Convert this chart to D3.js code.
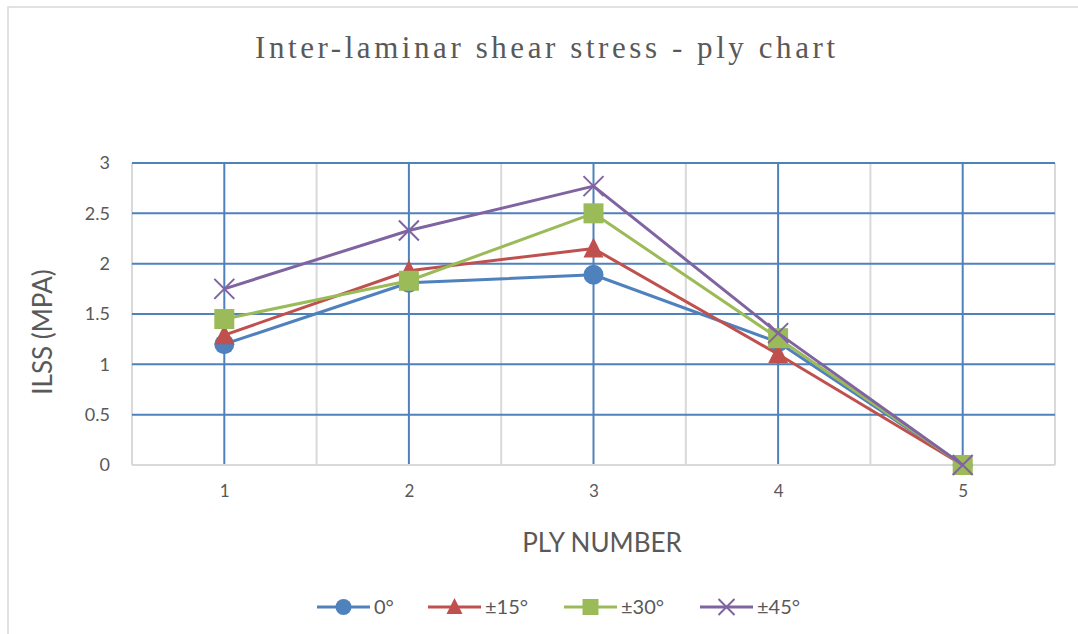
<!DOCTYPE html>
<html>
<head>
<meta charset="utf-8">
<script src="https://cdn.jsdelivr.net/npm/d3@7"></script>
<style>
  html, body { margin: 0; padding: 0; background: #ffffff; }
  svg { display: block; }
</style>
</head>
<body>
<svg id="chart" width="1078" height="634"></svg>
<script>
// Ply numbers along the x axis
const plies = [1, 2, 3, 4, 5];
// Inter-laminar shear stress (MPa) per fibre orientation
const ilss0  = [1.20, 1.81, 1.89, 1.22, 0];
const ilss15 = [1.29, 1.93, 2.15, 1.10, 0];
const ilss30 = [1.45, 1.83, 2.50, 1.26, 0];
const ilss45 = [1.75, 2.33, 2.77, 1.31, 0];
const seriesNames = ["0°", "±15°", "±30°", "±45°"];
const yTicks = [0, 0.5, 1, 1.5, 2, 2.5, 3];

const colors = ["#4F81BD", "#C0504D", "#9BBB59", "#8064A2"];
const shapes = ["circle", "triangle", "square", "cross"];
const series = [ilss0, ilss15, ilss30, ilss45].map((vals, i) => ({
  name: seriesNames[i], values: vals, color: colors[i], shape: shapes[i]
}));

const svg = d3.select("#chart");
const textColor = "#595959";
const font = "Lato, 'Open Sans', sans-serif";

// Chart frame
svg.append("rect")
  .attr("x", 8).attr("y", 7).attr("width", 1090).attr("height", 650)
  .attr("fill", "none").attr("stroke", "#d9d9d9").attr("stroke-width", 1.5);

const plot = { left: 132, right: 1055, top: 163, bottom: 465 };

const x = d3.scaleBand().domain(plies).range([plot.left, plot.right]).paddingInner(0).paddingOuter(0);
const cx = d => x(d) + x.bandwidth() / 2;
const y = d3.scaleLinear().domain([0, 3]).range([plot.bottom, plot.top]);

const grid = svg.append("g");

// Category boundaries (light grey)
const bounds = plies.map(p => x(p)).concat([plot.right]);
grid.selectAll("line.vb").data(bounds).enter().append("line")
  .attr("x1", d => d).attr("x2", d => d)
  .attr("y1", plot.top).attr("y2", plot.bottom)
  .attr("stroke", "#d9d9d9").attr("stroke-width", 2);

// Vertical lines at each ply (blue)
grid.selectAll("line.vc").data(plies).enter().append("line")
  .attr("x1", d => cx(d)).attr("x2", d => cx(d))
  .attr("y1", plot.top).attr("y2", plot.bottom)
  .attr("stroke", "#4F81BD").attr("stroke-width", 2);

// Horizontal value gridlines (blue)
grid.selectAll("line.h").data(yTicks.filter(t => t > 0)).enter().append("line")
  .attr("x1", plot.left).attr("x2", plot.right)
  .attr("y1", d => y(d)).attr("y2", d => y(d))
  .attr("stroke", "#4F81BD").attr("stroke-width", 2);

// Baseline
grid.append("line")
  .attr("x1", plot.left).attr("x2", plot.right)
  .attr("y1", y(0)).attr("y2", y(0))
  .attr("stroke", "#d9d9d9").attr("stroke-width", 2);

// Y axis labels
const yAxis = d3.axisLeft(y).tickValues(yTicks).tickSize(0).tickPadding(0)
  .tickFormat(d3.format("~g"));
const yg = svg.append("g").attr("transform", `translate(${plot.left - 22},0)`).call(yAxis);
yg.select(".domain").remove();
yg.selectAll("text").attr("fill", textColor).attr("font-size", 18).attr("font-family", font);

// X axis labels
const xAxis = d3.axisBottom(d3.scalePoint().domain(plies).range([cx(1), cx(5)]))
  .tickSize(0).tickPadding(0);
const xg = svg.append("g").attr("transform", `translate(0,${plot.bottom + 20})`).call(xAxis);
xg.select(".domain").remove();
xg.selectAll("text").attr("fill", textColor).attr("font-size", 17).attr("font-family", font);

// Marker drawing
function marker(sel, shape, color, size) {
  const h = size / 2;
  if (shape === "circle") {
    sel.append("circle").attr("r", h).attr("fill", color);
  } else if (shape === "square") {
    sel.append("rect").attr("x", -h).attr("y", -h).attr("width", size).attr("height", size).attr("fill", color);
  } else if (shape === "triangle") {
    sel.append("path").attr("d", `M0,${-h - 1}L${h},${h - 1}L${-h},${h - 1}Z`).attr("fill", color);
  } else if (shape === "cross") {
    sel.append("path").attr("d", `M${-h},${-h}L${h},${h}M${-h},${h}L${h},${-h}`)
      .attr("stroke", color).attr("stroke-width", 2).attr("fill", "none");
  }
}

const line = d3.line().x((d, i) => cx(plies[i])).y(d => y(d));

series.forEach(s => {
  const g = svg.append("g");
  g.append("path").datum(s.values).attr("d", line)
    .attr("fill", "none").attr("stroke", s.color).attr("stroke-width", 3)
    .attr("stroke-linejoin", "round");
  s.values.forEach((v, i) => {
    const m = g.append("g").attr("transform", `translate(${cx(plies[i])},${y(v)})`);
    marker(m, s.shape, s.color, 20);
  });
});

// Title
svg.append("text")
  .attr("x", 545).attr("y", 58).attr("text-anchor", "middle")
  .attr("font-family", "'Liberation Serif', 'Times New Roman', serif")
  .attr("font-size", 31).attr("fill", textColor)
  .attr("textLength", 580).attr("lengthAdjust", "spacing")
  .text("Inter-laminar shear stress - ply chart");

// Axis titles
svg.append("text")
  .attr("x", 602).attr("y", 552).attr("text-anchor", "middle")
  .attr("font-family", font).attr("font-size", 26).attr("fill", textColor)
  .text("PLY NUMBER");

svg.append("text")
  .attr("transform", "translate(52,332) rotate(-90)")
  .attr("text-anchor", "middle")
  .attr("font-family", font).attr("font-size", 26).attr("fill", textColor)
  .text("ILSS (MPA)");

// Legend
const legendX = [317, 428, 564, 700];
const legendY = 607;
const legend = svg.append("g");
series.forEach((s, i) => {
  const g = legend.append("g").attr("transform", `translate(${legendX[i]},${legendY})`);
  g.append("line").attr("x1", 0).attr("x2", 53).attr("y1", 0).attr("y2", 0)
    .attr("stroke", s.color).attr("stroke-width", 3);
  const m = g.append("g").attr("transform", "translate(26.5,0)");
  marker(m, s.shape, s.color, 16);
  g.append("text").attr("x", 57).attr("y", 7)
    .attr("font-family", font).attr("font-size", 20).attr("fill", textColor)
    .text(s.name);
});
</script>
</body>
</html>
